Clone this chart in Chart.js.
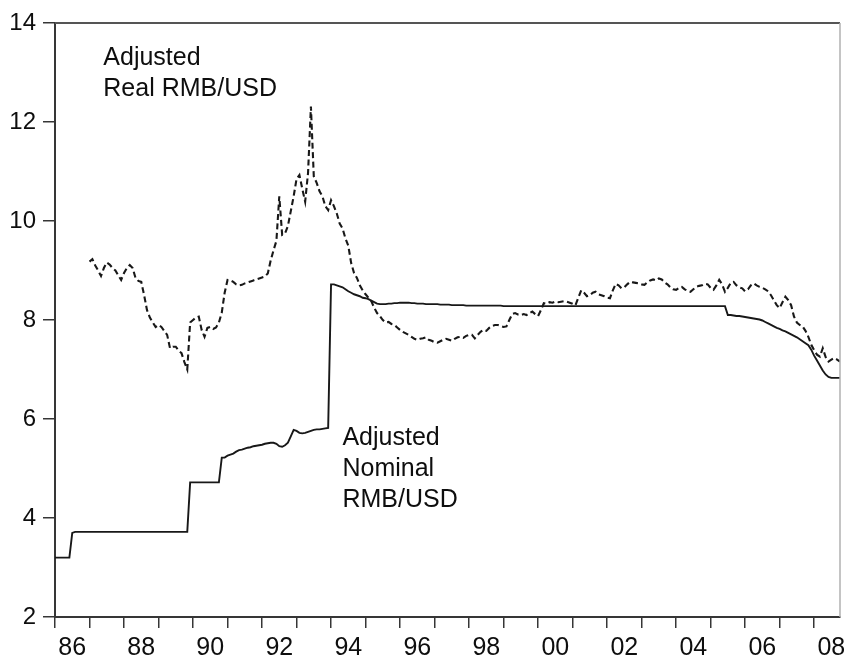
<!DOCTYPE html>
<html>
<head>
<meta charset="utf-8">
<script src="https://cdn.jsdelivr.net/npm/chart.js@4.4.1/dist/chart.umd.min.js"></script>
<style>
  html, body { margin: 0; padding: 0; background: #fff; }
  canvas { display: block; }
</style>
</head>
<body>
<canvas id="fx" width="844" height="660"></canvas>
<script>
// Monthly RMB/USD series, one row per calendar year.
const nominalStart = 1986; // first month: 1986M1
const nominal = [
  3.20,3.20,3.20,3.20,3.20,3.20,3.70,3.72,3.72,3.72,3.72,3.72,
  3.72,3.72,3.72,3.72,3.72,3.72,3.72,3.72,3.72,3.72,3.72,3.72,
  3.72,3.72,3.72,3.72,3.72,3.72,3.72,3.72,3.72,3.72,3.72,3.72,
  3.72,3.72,3.72,3.72,3.72,3.72,3.72,3.72,3.72,3.72,3.72,4.72,
  4.72,4.72,4.72,4.72,4.72,4.72,4.72,4.72,4.72,4.72,5.22,5.22,
  5.26,5.28,5.30,5.34,5.37,5.38,5.40,5.42,5.43,5.45,5.46,5.47,
  5.48,5.50,5.51,5.52,5.52,5.50,5.45,5.44,5.47,5.52,5.65,5.78,
  5.76,5.72,5.71,5.72,5.74,5.76,5.78,5.79,5.79,5.80,5.81,5.82,
  8.72,8.72,8.70,8.68,8.66,8.62,8.58,8.55,8.52,8.50,8.48,8.45,
  8.44,8.42,8.39,8.36,8.33,8.32,8.32,8.32,8.33,8.33,8.34,8.34,
  8.35,8.35,8.35,8.35,8.34,8.34,8.33,8.33,8.33,8.32,8.32,8.32,
  8.32,8.32,8.31,8.31,8.31,8.31,8.30,8.30,8.30,8.30,8.30,8.29,
  8.29,8.29,8.29,8.29,8.29,8.29,8.29,8.29,8.29,8.29,8.29,8.29,
  8.28,8.28,8.28,8.28,8.28,8.28,8.28,8.28,8.28,8.28,8.28,8.28,
  8.28,8.28,8.28,8.28,8.28,8.28,8.28,8.28,8.28,8.28,8.28,8.28,
  8.28,8.28,8.28,8.28,8.28,8.28,8.28,8.28,8.28,8.28,8.28,8.28,
  8.28,8.28,8.28,8.28,8.28,8.28,8.28,8.28,8.28,8.28,8.28,8.28,
  8.28,8.28,8.28,8.28,8.28,8.28,8.28,8.28,8.28,8.28,8.28,8.28,
  8.28,8.28,8.28,8.28,8.28,8.28,8.28,8.28,8.28,8.28,8.28,8.28,
  8.28,8.28,8.28,8.28,8.28,8.28,8.10,8.10,8.09,8.08,8.08,8.07,
  8.06,8.05,8.04,8.03,8.02,8.01,7.99,7.96,7.93,7.90,7.87,7.84,
  7.82,7.79,7.77,7.74,7.71,7.68,7.65,7.61,7.57,7.53,7.49,7.40,
  7.28,7.18,7.08,6.98,6.90,6.85,6.83,6.83,6.83,6.83
];

const realStart = 1987; // first month: 1987M1
const real = [
  9.18,9.23,9.10,9.00,8.89,9.05,9.16,9.12,9.05,9.00,8.90,8.81,
  8.95,9.05,9.11,9.05,8.85,8.79,8.77,8.50,8.20,8.05,7.95,7.86,
  7.90,7.86,7.78,7.70,7.43,7.46,7.46,7.38,7.33,7.15,7.00,7.95,
  8.00,8.05,8.07,7.80,7.66,7.84,7.86,7.82,7.85,7.95,8.15,8.55,
  8.81,8.80,8.77,8.72,8.70,8.71,8.74,8.76,8.78,8.80,8.82,8.84,
  8.86,8.88,8.94,9.20,9.41,9.60,10.50,9.72,9.75,9.90,10.20,10.50,
  10.85,10.93,10.65,10.39,10.97,12.31,10.90,10.77,10.60,10.50,10.30,10.22,
  10.42,10.30,10.15,9.95,9.85,9.65,9.50,9.15,8.95,8.85,8.70,8.60,
  8.52,8.45,8.38,8.25,8.14,8.08,8.00,7.95,7.96,7.92,7.90,7.85,
  7.80,7.76,7.73,7.70,7.66,7.62,7.60,7.62,7.63,7.65,7.60,7.58,
  7.55,7.54,7.57,7.60,7.62,7.60,7.58,7.62,7.65,7.66,7.64,7.68,
  7.70,7.70,7.63,7.70,7.76,7.80,7.78,7.84,7.88,7.90,7.90,7.88,
  7.86,7.87,8.00,8.12,8.14,8.11,8.10,8.12,8.10,8.14,8.17,8.12,
  8.08,8.20,8.34,8.33,8.36,8.35,8.37,8.36,8.37,8.38,8.37,8.35,
  8.33,8.30,8.45,8.60,8.55,8.48,8.50,8.55,8.57,8.52,8.50,8.48,
  8.45,8.44,8.60,8.73,8.70,8.64,8.66,8.72,8.77,8.76,8.75,8.74,
  8.72,8.71,8.76,8.80,8.82,8.80,8.84,8.82,8.76,8.72,8.66,8.62,
  8.61,8.65,8.67,8.62,8.59,8.57,8.62,8.67,8.69,8.70,8.73,8.72,
  8.65,8.61,8.70,8.81,8.72,8.57,8.65,8.75,8.77,8.70,8.66,8.64,
  8.58,8.62,8.70,8.74,8.70,8.67,8.65,8.62,8.58,8.50,8.40,8.30,
  8.24,8.36,8.47,8.40,8.30,8.07,7.95,7.90,7.87,7.78,7.66,7.50,
  7.39,7.30,7.26,7.43,7.25,7.16,7.20,7.23,7.20,7.16
];

// Axis range and tick values
const xMin = 1986, xMax = 2008.75;
const yTicks = [2, 4, 6, 8, 10, 12, 14];
const yearLabels = ['86','88','90','92','94','96','98','00','02','04','06','08'];
const labelYears = [1986,1988,1990,1992,1994,1996,1998,2000,2002,2004,2006,2008];

// Text notes placed in data coordinates
const notes = [
  { x: 1987.4, y: 13.15, lines: ['Adjusted', 'Real RMB/USD'] },
  { x: 1994.33, y: 5.47, lines: ['Adjusted', 'Nominal', 'RMB/USD'] }
];

const toPoints = (start, vals) => vals.map((v, i) => ({ x: start + i / 12, y: v }));

const FONT = '"Liberation Sans", Arial, Helvetica, sans-serif';
const INK = '#0e0e0e';
const AXIS = '#363636';

const frameAndNotes = {
  id: 'frameAndNotes',
  afterDatasetsDraw(chart) {
    const { ctx, chartArea: a, scales: { x, y } } = chart;
    ctx.save();
    ctx.strokeStyle = '#555';
    ctx.lineWidth = 2;
    ctx.beginPath();
    ctx.moveTo(a.left, a.top);
    ctx.lineTo(a.right, a.top);
    ctx.stroke();
    ctx.strokeStyle = '#b0b0b0';
    ctx.lineWidth = 1.5;
    ctx.beginPath();
    ctx.moveTo(a.right, a.top);
    ctx.lineTo(a.right, a.bottom);
    ctx.stroke();
    ctx.font = '25px ' + FONT;
    ctx.fillStyle = INK;
    ctx.textBaseline = 'alphabetic';
    ctx.textAlign = 'left';
    notes.forEach(n => {
      const px = x.getPixelForValue(n.x);
      const py = y.getPixelForValue(n.y);
      n.lines.forEach((t, i) => ctx.fillText(t, px, py + i * 31));
    });
    ctx.restore();
  }
};

new Chart(document.getElementById('fx'), {
  type: 'line',
  data: {
    datasets: [
      {
        label: 'Adjusted Nominal RMB/USD',
        data: toPoints(nominalStart, nominal),
        borderColor: '#181818',
        borderWidth: 1.9,
        pointRadius: 0,
        tension: 0,
        fill: false
      },
      {
        label: 'Adjusted Real RMB/USD',
        data: toPoints(realStart, real),
        borderColor: '#181818',
        borderWidth: 2.1,
        borderDash: [6, 3.5],
        pointRadius: 0,
        tension: 0,
        fill: false
      }
    ]
  },
  options: {
    responsive: false,
    devicePixelRatio: 1,
    animation: false,
    layout: { padding: { top: 23, right: 4, left: 0, bottom: 0 } },
    plugins: { legend: { display: false }, tooltip: { enabled: false } },
    scales: {
      x: {
        type: 'linear',
        position: 'bottom',
        min: xMin,
        max: xMax,
        afterBuildTicks(scale) {
          const t = [];
          for (let yr = 1986; yr <= 2008; yr++) t.push({ value: yr });
          labelYears.forEach(yr => t.push({ value: yr + 0.5 }));
          t.sort((p, q) => p.value - q.value);
          scale.ticks = t;
        },
        afterFit(scale) {
          scale.height = 43;
          scale.paddingLeft = 0;
          scale.paddingRight = 0;
        },
        ticks: {
          autoSkip: false,
          maxRotation: 0,
          minRotation: 0,
          padding: 5,
          color: INK,
          font: { family: FONT, size: 25 },
          callback(v) {
            if (Number.isInteger(v)) return '';
            const i = labelYears.indexOf(Math.floor(v));
            return i >= 0 ? yearLabels[i] : '';
          }
        },
        grid: {
          drawOnChartArea: false,
          drawTicks: true,
          tickLength: 11,
          lineWidth: 1.5,
          color: (c) => (c.tick && Number.isInteger(c.tick.value)) ? AXIS : 'rgba(0,0,0,0)'
        },
        border: { display: true, color: AXIS, width: 2 }
      },
      y: {
        type: 'linear',
        min: 2,
        max: 14,
        afterBuildTicks(scale) {
          scale.ticks = yTicks.map(v => ({ value: v }));
        },
        afterFit(scale) {
          scale.width = 55;
          scale.paddingTop = 0;
          scale.paddingBottom = 0;
        },
        ticks: {
          padding: 7,
          color: INK,
          font: { family: FONT, size: 24 }
        },
        grid: {
          drawOnChartArea: false,
          drawTicks: true,
          tickLength: 12,
          lineWidth: 1.5,
          color: AXIS
        },
        border: { display: true, color: AXIS, width: 2 }
      }
    }
  },
  plugins: [frameAndNotes]
});
</script>
</body>
</html>
